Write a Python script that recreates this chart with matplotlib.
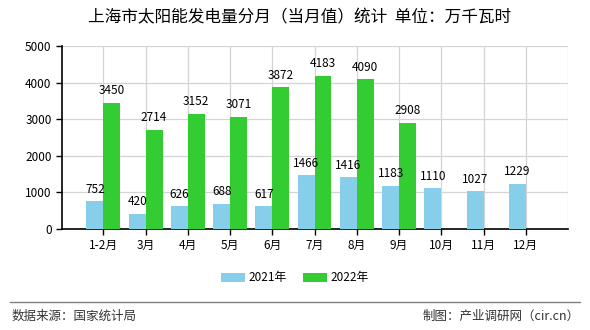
import matplotlib
matplotlib.use('Agg')
import matplotlib.pyplot as plt
import numpy as np

plt.rcParams['font.family'] = ['Noto Sans CJK SC', 'DejaVu Sans']
plt.rcParams['axes.unicode_minus'] = False

# 数据
months = ['1-2月', '3月', '4月', '5月', '6月', '7月', '8月', '9月', '10月', '11月', '12月']
v2021 = [752, 420, 626, 688, 617, 1466, 1416, 1183, 1110, 1027, 1229]
v2022 = [3450, 2714, 3152, 3071, 3872, 4183, 4090, 2908]

fig = plt.figure(figsize=(5.9, 3.3), dpi=100)
ax = fig.add_axes([62/590, 1-229/330, 506/590, 183/330])

x = np.arange(len(months))
w = 0.4
b1 = ax.bar(x - w/2, v2021, w, color='#87CEEB', label='2021年', zorder=3)
b2 = ax.bar(x[:len(v2022)] + w/2, v2022, w, color='#33CC33', label='2022年', zorder=3)

for rect, v in zip(b1, v2021):
    ax.annotate(str(v), (rect.get_x() + rect.get_width()/2, v), xytext=(0, 4),
                textcoords='offset points', ha='center', va='bottom', fontsize=8.5, zorder=5)
for rect, v in zip(b2, v2022):
    ax.annotate(str(v), (rect.get_x() + rect.get_width()/2, v), xytext=(0, 4),
                textcoords='offset points', ha='center', va='bottom', fontsize=8.5, zorder=5)

ax.set_xlim(-0.98, 11.0)
ax.set_ylim(0, 5000)
ax.set_yticks([0, 1000, 2000, 3000, 4000, 5000])
ax.set_xticks(x)
ax.set_xticklabels(months, fontsize=8.5)
ax.tick_params(axis='y', labelsize=8.5, length=4, width=1)
ax.tick_params(axis='x', length=4, width=1)
ax.grid(True, color='#d4d4d4', linewidth=0.9, zorder=0)
ax.axvline(11.0, color='#d4d4d4', linewidth=0.9, zorder=0)
for s in ['top', 'right']:
    ax.spines[s].set_visible(False)
ax.spines['left'].set_linewidth(1.2)
ax.spines['bottom'].set_linewidth(1.2)

fig.text(0.507, 1-18/330, '上海市太阳能发电量分月（当月值）统计  单位：万千瓦时',
         ha='center', va='center', fontsize=12)

fig.legend(handles=[b1, b2], loc='center', bbox_to_anchor=(0.5, 1-278/330),
           ncol=2, frameon=False, fontsize=8.5, handlelength=2.0, handleheight=0.9,
           columnspacing=1.4, handletextpad=0.3)

fig.add_artist(plt.Line2D([10/590, 580/590], [1-302/330, 1-302/330], color='#808080', linewidth=1))
fig.text(12/590, 1-316/330, '数据来源：国家统计局', ha='left', va='center', fontsize=9, color='#333333')
fig.text(580/590, 1-316/330, '制图：产业调研网（cir.cn）', ha='right', va='center', fontsize=9, color='#333333')

fig.savefig('out.png', dpi=100)
